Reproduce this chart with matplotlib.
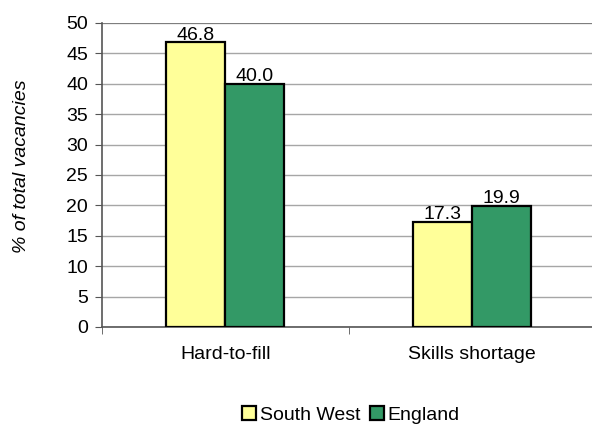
import numpy as np
import matplotlib
matplotlib.use('Agg')
import matplotlib.pyplot as plt
from matplotlib.patches import Patch

plt.rcParams['font.family'] = ['Liberation Sans', 'DejaVu Sans']

categories = ["Hard-to-fill", "Skills shortage"]
south_west = [46.8, 17.3]
england = [40.0, 19.9]
series_names = ["South West", "England"]
colors = ["#FFFF99", "#339966"]

FS = 14

fig = plt.figure(figsize=(5.92, 4.25), dpi=100)
ax = fig.add_axes([0.1723, 0.2306, 0.834, 0.7153])

x = np.arange(len(categories))
w = 0.239
ax.bar(x - w / 2, south_west, w, color=colors[0], edgecolor="black", linewidth=1.6, zorder=3)
ax.bar(x + w / 2, england, w, color=colors[1], edgecolor="black", linewidth=1.6, zorder=3)

for xi, v in zip(x - w / 2, south_west):
    ax.text(xi, v + 0.45, f"{v:.1f}", ha="center", va="baseline", fontsize=FS)
for xi, v in zip(x + w / 2, england):
    ax.text(xi, v + 0.45, f"{v:.1f}", ha="center", va="baseline", fontsize=FS)

ax.set_xlim(-0.5, 1.5)
ax.set_ylim(0, 50)
ax.set_yticks(np.arange(0, 51, 5))
ax.yaxis.grid(True, color="#a6a6a6", linewidth=1, zorder=0)
ax.set_axisbelow(True)

# category labels centred, tick marks on the category boundaries
ax.set_xticks(x)
ax.set_xticklabels(categories, fontsize=FS)
ax.tick_params(axis="x", length=0, pad=14)
ax.set_xticks([-0.5, 0.5, 1.5], minor=True)
ax.tick_params(axis="x", which="minor", length=5, color="#555555", direction="out")
ax.tick_params(axis="y", length=5, color="#555555", labelsize=FS, direction="out", pad=5)

for s in ["top", "right"]:
    ax.spines[s].set_visible(False)
for s in ["left", "bottom"]:
    ax.spines[s].set_color("#555555")
    ax.spines[s].set_linewidth(1.2)
ax.axhline(50, color="#777777", linewidth=1.2, zorder=1)

fig.text(0.036, 0.609, "% of total vacancies", rotation=90, ha="center", va="center",
         fontsize=FS, style="italic")

handles = [Patch(facecolor=c, edgecolor="black", linewidth=1.6) for c in colors]
fig.legend(handles, series_names, loc="center", bbox_to_anchor=(0.593, 0.024), ncol=2,
           frameon=False, fontsize=FS, handlelength=0.7, handleheight=0.7,
           handletextpad=0.2, columnspacing=0.5, borderpad=0)

fig.savefig("out.png", dpi=100)
